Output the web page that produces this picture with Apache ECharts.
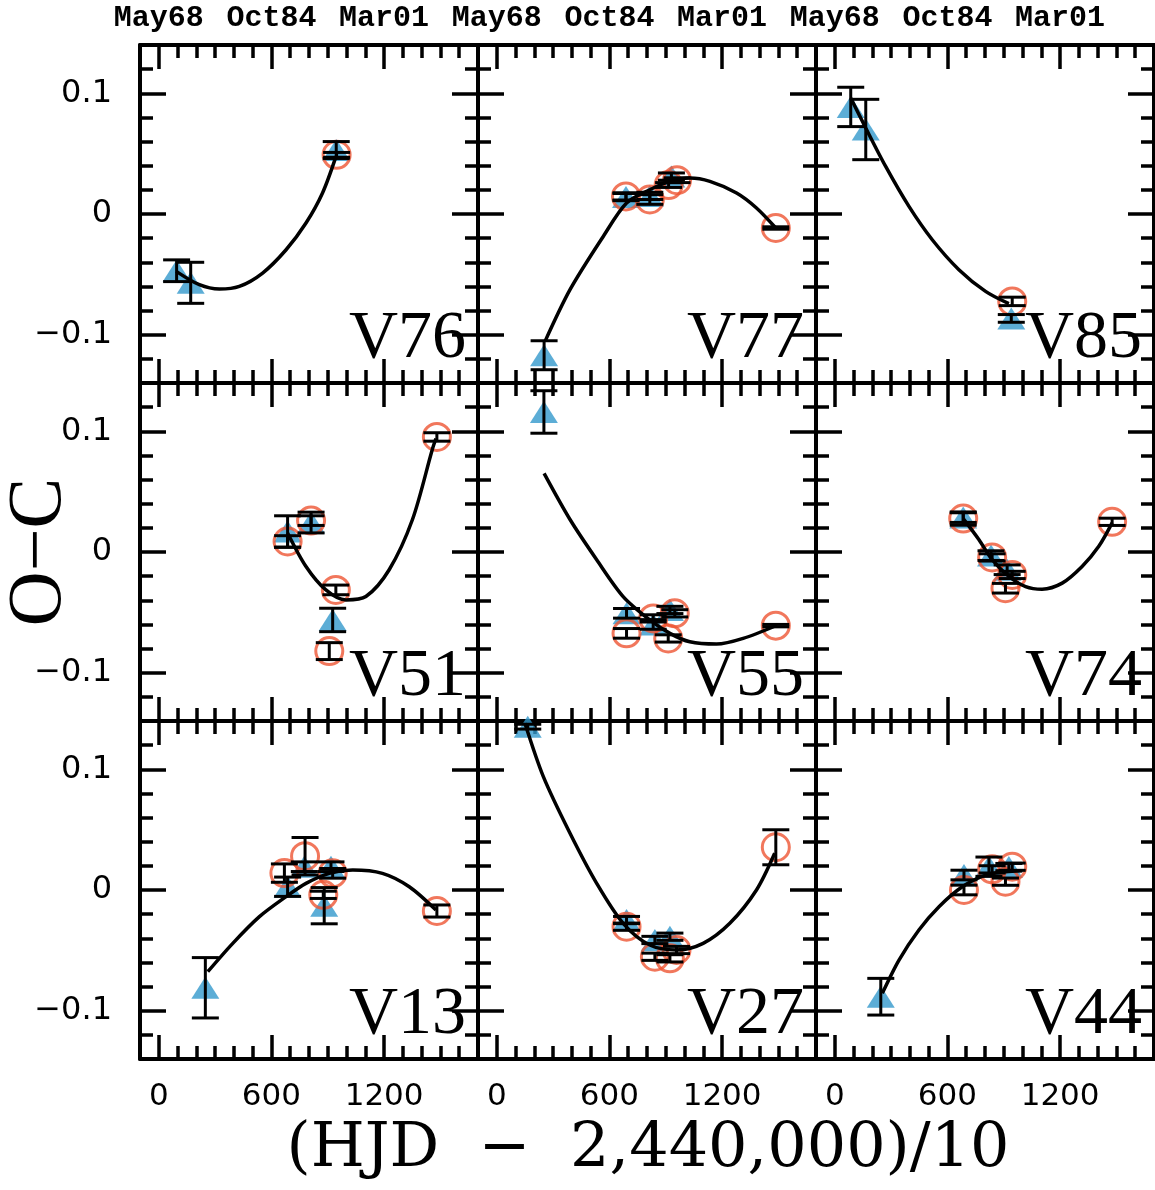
<!DOCTYPE html>
<html>
<head>
<meta charset="utf-8">
<title>O-C diagrams</title>
<script src="https://cdn.jsdelivr.net/npm/echarts@6/dist/echarts.min.js"></script>
<style>
  html, body { margin: 0; padding: 0; background: #fff; }
  #chart { width: 1155px; height: 1190px; }
</style>
</head>
<body>
<div id="chart"></div>
<script>
// panel names, row by row
var panelNames = ['V76', 'V77', 'V85', 'V51', 'V55', 'V74', 'V13', 'V27', 'V44'];

// ticks
var xMajorTicks = [0, 600, 1200];
var xMinorTicks = [0, 100, 200, 300, 400, 500, 600, 700, 800, 900, 1000, 1100, 1200, 1300, 1400, 1500, 1600];
var topTickLabels = ['May68', 'Oct84', 'Mar01'];
var yMajorTicks = [-0.1, 0, 0.1];
var yMajorLabels = ['\u22120.1', '0', '0.1'];
var yMinorTicks = [-0.12, -0.1, -0.08, -0.06, -0.04, -0.02, 0, 0.02, 0.04, 0.06, 0.08, 0.1, 0.12];

// points: [x, O-C, error]   tri = filled triangles, circ = open circles
var v76Tri  = [[95, -0.047, 0.009], [170, -0.057, 0.017], [945, 0.053, 0.007]];
var v76Circ = [[947, 0.049, 0.002]];
var v76FitX = [93, 216, 323, 429, 553, 678, 784, 872, 944];
var v76FitY = [-0.0475, -0.0586, -0.0622, -0.0600, -0.0489, -0.0296, -0.0075, 0.0174, 0.0477];

var v77Tri  = [[252, -0.117, 0.012], [688, 0.014, 0.003], [815, 0.015, 0.003], [930, 0.031, 0.003]];
var v77Circ = [[688, 0.0146, 0.003], [815, 0.012, 0.004], [915, 0.024, 0.002], [960, 0.028, 0.002], [1486, -0.0116, 0.001]];
var v77FitX = [257, 390, 567, 691, 815, 922, 1028, 1135, 1277, 1383, 1486];
var v77FitY = [-0.1055, -0.0627, -0.0186, 0.0091, 0.0201, 0.0270, 0.0298, 0.0270, 0.0174, 0.0050, -0.0116];

var v85Tri  = [[85, 0.0887, 0.0163], [165, 0.070, 0.025], [940, -0.0865, 0.0032]];
var v85Circ = [[945, -0.0724, 0.0035]];
var v85FitX = [85, 165, 271, 395, 519, 661, 803, 927];
var v85FitY = [0.0961, 0.0712, 0.0394, 0.0063, -0.0213, -0.0461, -0.0641, -0.0743];

var v51Tri  = [[686, 0.017, 0.013], [811, 0.0244, 0.0086], [926, -0.0563, 0.0097]];
var v51Circ = [[686, 0.0087, 0.0048], [811, 0.026, 0.004], [943, -0.0314, 0.004], [908, -0.0821, 0.007], [1481, 0.0953, 0.0035]];
var v51FitX = [686, 784, 890, 997, 1103, 1227, 1351, 1457, 1476];
var v51FitY = [0.0158, -0.0120, -0.0314, -0.0397, -0.0369, -0.0147, 0.0269, 0.0851, 0.094];

var v55Tri  = [[251, 0.116, 0.0176], [691, -0.0508, 0.004], [833, -0.060, 0.004], [922, -0.048, 0.003]];
var v55Circ = [[691, -0.0674, 0.004], [833, -0.055, 0.003], [913, -0.0716, 0.003], [948, -0.0508, 0.003], [1486, -0.061, 0.001]];
var v55FitX = [252, 390, 532, 673, 815, 922, 1028, 1170, 1312, 1486];
var v55FitY = [0.0651, 0.0269, -0.0064, -0.0369, -0.0563, -0.0674, -0.0744, -0.0763, -0.0716, -0.0611];

var v74Tri  = [[684, 0.0285, 0.004], [832, -0.003, 0.004], [918, -0.0147, 0.004]];
var v74Circ = [[684, 0.0277, 0.0055], [838, -0.0045, 0.003], [945, -0.019, 0.003], [909, -0.030, 0.004], [1477, 0.025, 0.003]];
var v74FitX = [684, 768, 838, 927, 1016, 1104, 1211, 1317, 1406, 1477];
var v74FitY = [0.0277, 0.0102, -0.0064, -0.0203, -0.0286, -0.0308, -0.0258, -0.0120, 0.0047, 0.0241];

var v13Tri  = [[248, -0.081, 0.025], [686, 0.0027, 0.008], [775, 0.0193, 0.004], [917, 0.0193, 0.004], [881, -0.013, 0.015]];
var v13Circ = [[669, 0.014, 0.0076], [779, 0.028, 0.0155], [876, -0.004, 0.003], [926, 0.0138, 0.004], [1481, -0.0174, 0.005]];
var v13FitX = [261, 394, 536, 678, 784, 908, 1033, 1191, 1334, 1476];
var v13FitY = [-0.0677, -0.0442, -0.0221, -0.0055, 0.0055, 0.0138, 0.0166, 0.0138, 0.0027, -0.0166];

var v27Tri  = [[165, 0.1353, 0.002], [691, -0.0249, 0.003], [842, -0.0414, 0.003], [922, -0.0387, 0.003]];
var v27Circ = [[691, -0.0304, 0.003], [842, -0.0553, 0.003], [922, -0.0566, 0.003], [957, -0.0497, 0.003], [1486, 0.0354, 0.0145]];
var v27FitX = [150, 248, 390, 532, 673, 815, 957, 1099, 1241, 1383, 1480];
var v27FitY = [0.1381, 0.0939, 0.0470, 0.0055, -0.0276, -0.0456, -0.0497, -0.0442, -0.0276, 0, 0.0304];

var v44Tri  = [[245, -0.0884, 0.0152], [688, 0.0124, 0.004], [821, 0.0193, 0.008], [927, 0.019, 0.003]];
var v44Circ = [[688, 0.0, 0.004], [838, 0.0171, 0.003], [945, 0.0193, 0.003], [909, 0.0069, 0.003]];
var v44FitX = [253, 342, 448, 555, 679, 803, 909, 998];
var v44FitY = [-0.0856, -0.0580, -0.0331, -0.0138, 0.0027, 0.0124, 0.0152, 0.0160];

var panels = [
    { tri: v76Tri, circ: v76Circ, fitX: v76FitX, fitY: v76FitY },
    { tri: v77Tri, circ: v77Circ, fitX: v77FitX, fitY: v77FitY },
    { tri: v85Tri, circ: v85Circ, fitX: v85FitX, fitY: v85FitY },
    { tri: v51Tri, circ: v51Circ, fitX: v51FitX, fitY: v51FitY },
    { tri: v55Tri, circ: v55Circ, fitX: v55FitX, fitY: v55FitY },
    { tri: v74Tri, circ: v74Circ, fitX: v74FitX, fitY: v74FitY },
    { tri: v13Tri, circ: v13Circ, fitX: v13FitX, fitY: v13FitY },
    { tri: v27Tri, circ: v27Circ, fitX: v27FitX, fitY: v27FitY },
    { tri: v44Tri, circ: v44Circ, fitX: v44FitX, fitY: v44FitY }
];

// layout
var colLeft = [140, 478, 816];
var rowTop = [45, 383, 721];
var SIZE = 338;
var BLUE = '#3399cc';
var RED = '#ee5533';
var CAP = 13.5;

var chart = echarts.init(document.getElementById('chart'), null, { renderer: 'canvas' });

var grids = [], xAxes = [], yAxes = [], series = [], graphics = [];

function lineStyle(w) {
    return { color: '#000', width: w };
}

// 误差棒
function errorBar(params, api) {
    var x = api.value(0), y = api.value(1), e = api.value(2);
    var hi = api.coord([x, y + e]);
    var lo = api.coord([x, y - e]);
    var st = { stroke: '#000', lineWidth: 3 };
    return {
        type: 'group',
        children: [
            { type: 'line', shape: { x1: hi[0], y1: hi[1], x2: lo[0], y2: lo[1] }, style: st },
            { type: 'line', shape: { x1: hi[0] - CAP, y1: hi[1], x2: hi[0] + CAP, y2: hi[1] }, style: st },
            { type: 'line', shape: { x1: lo[0] - CAP, y1: lo[1], x2: lo[0] + CAP, y2: lo[1] }, style: st }
        ]
    };
}

panels.forEach(function (p, i) {
    var row = Math.floor(i / 3), col = i % 3;
    grids.push({ left: colLeft[col], top: rowTop[row], width: SIZE, height: SIZE, outerBoundsMode: 'none' });

    var xb = { gridIndex: i, type: 'value', min: -100, max: 1700, splitLine: { show: false } };
    // bottom, major
    xAxes.push(Object.assign({}, xb, {
        position: 'bottom',
        axisLine: { show: true, onZero: false, lineStyle: lineStyle(4) },
        axisTick: { show: true, inside: true, length: 24, customValues: xMajorTicks, lineStyle: lineStyle(3.5) },
        axisLabel: {
            show: row === 2, customValues: xMajorTicks, margin: 22,
            color: '#000', fontFamily: 'DejaVu Sans', fontSize: 31,
            formatter: function (v) { return String(v); }
        }
    }));
    // bottom, minor
    xAxes.push(Object.assign({}, xb, {
        position: 'bottom',
        axisLine: { show: false, onZero: false },
        axisTick: { show: true, inside: true, length: 13, customValues: xMinorTicks, lineStyle: lineStyle(3.5) },
        axisLabel: { show: false }
    }));
    // top, major
    xAxes.push(Object.assign({}, xb, {
        position: 'top',
        axisLine: { show: true, onZero: false, lineStyle: lineStyle(4) },
        axisTick: { show: true, inside: true, length: 24, customValues: xMajorTicks, lineStyle: lineStyle(3.5) },
        axisLabel: {
            show: row === 0, customValues: xMajorTicks, margin: 12,
            color: '#000', fontFamily: 'Liberation Mono', fontWeight: 'bold', fontSize: 30,
            formatter: function (v) { return topTickLabels[xMajorTicks.indexOf(v)]; }
        }
    }));
    // top, minor
    xAxes.push(Object.assign({}, xb, {
        position: 'top',
        axisLine: { show: false, onZero: false },
        axisTick: { show: true, inside: true, length: 13, customValues: xMinorTicks, lineStyle: lineStyle(3.5) },
        axisLabel: { show: false }
    }));

    var yb = { gridIndex: i, type: 'value', min: -0.14, max: 0.14, splitLine: { show: false } };
    yAxes.push(Object.assign({}, yb, {
        position: 'left',
        axisLine: { show: true, onZero: false, lineStyle: lineStyle(4) },
        axisTick: { show: true, inside: true, length: 26, customValues: yMajorTicks, lineStyle: lineStyle(3.5) },
        axisLabel: {
            show: col === 0, customValues: yMajorTicks, margin: 28,
            color: '#000', fontFamily: 'DejaVu Sans', fontSize: 32,
            formatter: function (v) {
                for (var k = 0; k < yMajorTicks.length; k++) {
                    if (Math.abs(yMajorTicks[k] - v) < 1e-9) return yMajorLabels[k];
                }
                return '';
            }
        }
    }));
    yAxes.push(Object.assign({}, yb, {
        position: 'left',
        axisLine: { show: false, onZero: false },
        axisTick: { show: true, inside: true, length: 13, customValues: yMinorTicks, lineStyle: lineStyle(3.5) },
        axisLabel: { show: false }
    }));
    yAxes.push(Object.assign({}, yb, {
        position: 'right',
        axisLine: { show: true, onZero: false, lineStyle: lineStyle(4) },
        axisTick: { show: true, inside: true, length: 26, customValues: yMajorTicks, lineStyle: lineStyle(3.5) },
        axisLabel: { show: false }
    }));
    yAxes.push(Object.assign({}, yb, {
        position: 'right',
        axisLine: { show: false, onZero: false },
        axisTick: { show: true, inside: true, length: 13, customValues: yMinorTicks, lineStyle: lineStyle(3.5) },
        axisLabel: { show: false }
    }));

    var xi = i * 4, yi = i * 4;

    series.push({
        type: 'scatter', xAxisIndex: xi, yAxisIndex: yi, z: 2, clip: false,
        symbol: 'triangle', symbolSize: [28, 22],
        itemStyle: { color: BLUE },
        encode: { x: 0, y: 1 },
        data: p.tri
    });
    series.push({
        type: 'scatter', xAxisIndex: xi, yAxisIndex: yi, z: 3, clip: false,
        symbol: 'circle', symbolSize: 27,
        itemStyle: { color: 'rgba(0,0,0,0)', borderColor: RED, borderWidth: 3 },
        encode: { x: 0, y: 1 },
        data: p.circ
    });
    series.push({
        type: 'custom', xAxisIndex: xi, yAxisIndex: yi, z: 4, clip: false,
        renderItem: errorBar, encode: { x: 0, y: 1 },
        data: p.tri.concat(p.circ)
    });
    series.push({
        type: 'line', xAxisIndex: xi, yAxisIndex: yi, z: 5,
        showSymbol: false, smooth: 0.3,
        lineStyle: { color: '#000', width: 3.5 },
        data: p.fitX.map(function (x, k) { return [x, p.fitY[k]]; })
    });

    // 星名
    graphics.push({
        type: 'text', z: 10,
        style: {
            text: panelNames[i],
            x: colLeft[col] + SIZE - 12, y: rowTop[row] + SIZE - 44,
            textAlign: 'right', textVerticalAlign: 'middle',
            align: 'right', verticalAlign: 'middle',
            font: '68px "Liberation Serif"', fill: '#000'
        }
    });
});

// 坐标轴标题
graphics.push({
    type: 'text', z: 10,
    style: {
        text: '(HJD  \u2212  2,440,000)/10',
        x: 648, y: 1150,
        textAlign: 'center', textVerticalAlign: 'middle',
        align: 'center', verticalAlign: 'middle',
        font: '62px "DejaVu Serif"', fill: '#000'
    }
});
graphics.push({
    type: 'text', z: 10,
    x: 40, y: 552, rotation: Math.PI / 2,
    style: {
        text: 'O\u2212C',
        x: 0, y: 0,
        textAlign: 'center', textVerticalAlign: 'middle',
        align: 'center', verticalAlign: 'middle',
        font: '76px "Liberation Serif"', fill: '#000'
    }
});

chart.setOption({
    animation: false,
    backgroundColor: '#fff',
    grid: grids,
    xAxis: xAxes,
    yAxis: yAxes,
    series: series,
    graphic: graphics
});
</script>
</body>
</html>
